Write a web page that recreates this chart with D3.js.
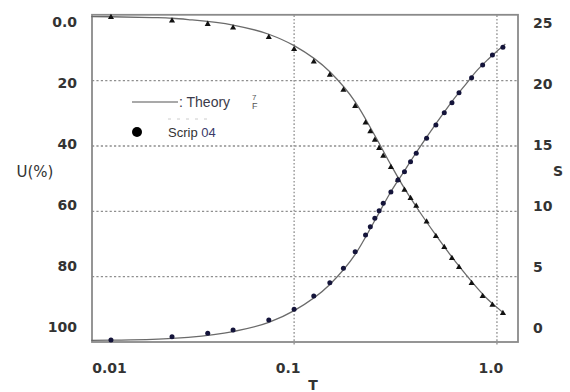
<!DOCTYPE html>
<html><head><meta charset="utf-8">
<script src="https://cdn.jsdelivr.net/npm/d3@7"></script>
<style>body{margin:0;background:#fff}svg{display:block}text{font-family:"DejaVu Sans",Verdana,sans-serif}text.lg{font-family:"Liberation Sans",Arial,sans-serif}</style>
</head><body><svg id="c" width="570" height="392"></svg>
<script>
// Measured time factor T for the test points
const T = [0.0125,0.025,0.0375,0.05,0.075,0.1,0.125,0.15,0.175,0.2,0.225,0.2375,0.25,0.2625,0.275,0.3,0.325,0.35,0.375,0.4,0.45,0.5,0.55,0.6,0.65,0.75,0.85,0.95,1.07];
// Degree of consolidation U(%) (triangles, left axis)
const U = [0.6,1.65,2.7,3.8,6.7,10.4,14.2,18.3,22.9,27.8,32.9,35.6,38.2,40.7,43.1,46.5,50.4,53.5,56.0,58.4,63.2,67.6,71.0,74.4,77.1,82.0,86.0,88.7,91.2];
// Settlement S (dots, right axis)
const S = [0.15,0.41,0.67,0.92,1.68,2.5,3.52,4.54,5.64,6.91,8.19,8.82,9.47,10.05,10.61,11.48,12.4,13.03,13.8,14.44,15.59,16.6,17.55,18.31,19.08,20.23,21.2,21.96,22.55];
// Theory curves
const thT = [0.01,0.0125,0.02,0.025,0.03,0.05,0.075,0.1,0.15,0.2,0.25,0.3,0.35,0.4,0.5,0.6,0.7,0.8,0.9,1.0,1.1];
const thU = [0.4,0.45,0.7,0.9,1.3,3.0,5.8,9.3,17.3,26.5,36.8,45.8,53.0,58.6,67.3,74.0,79.2,83.5,86.9,89.4,91.6];
const thS = [0.12,0.14,0.2,0.27,0.36,0.8,1.5,2.4,4.4,6.7,9.3,11.5,13.1,14.5,16.7,18.4,19.7,20.8,21.6,22.25,22.8];
// Tick labels
const uTicks = [0,20,40,60,80,100];
const uTickLabels = ["0.0","20","40","60","80","100"];
const sTicks = [25,20,15,10,5,0];
const tTicks = [0.01,0.1,1.0];
const tTickLabels = ["0.01","0.1","1.0"];

const svg = d3.select("#c");
const L=92,R=518,Tp=15.3,B=342;
const x = d3.scaleLog().domain([0.01,1.27]).range([91.3,R]);
const yU = d3.scaleLinear().domain([0,100]).range([Tp,B]);
const yS = d3.scaleLinear().domain([25,0]).range([Tp,B]);
const yUlab = d3.scaleLinear().domain([0,100]).range([22,327]);
const ySlab = d3.scaleLinear().domain([25,0]).range([23.3,328.3]);

// grid
svg.append("g").selectAll("line").data([20,40,60,80]).join("line")
  .attr("x1",L).attr("x2",R).attr("y1",d=>yU(d)).attr("y2",d=>yU(d))
  .attr("stroke","#8f8f8f").attr("stroke-width",1.3).attr("stroke-dasharray","2.2,2.2");
svg.append("g").selectAll("line").data([0.1,1.0]).join("line")
  .attr("x1",d=>x(d)).attr("x2",d=>x(d)).attr("y1",Tp).attr("y2",B+3)
  .attr("stroke","#8f8f8f").attr("stroke-width",1.3).attr("stroke-dasharray","1.6,2");

// frame
svg.append("rect").attr("x",L).attr("y",Tp-0.5).attr("width",R-L).attr("height",B-Tp+0.5)
  .attr("fill","none").attr("stroke","#8a8a8a").attr("stroke-width",1.8);

// theory lines
const lineU = d3.line().x((d,i)=>x(thT[i])).y(d=>yU(d)).curve(d3.curveMonotoneX);
const lineS = d3.line().x((d,i)=>x(thT[i])).y(d=>yS(d)).curve(d3.curveMonotoneX);
svg.append("path").attr("d",lineU(thU)).attr("fill","none").attr("stroke","#6a6a6a").attr("stroke-width",1.3);
svg.append("path").attr("d",lineS(thS)).attr("fill","none").attr("stroke","#6a6a6a").attr("stroke-width",1.3);

// markers
const tri = d3.symbol().type(d3.symbolTriangle).size(16);
svg.append("g").selectAll("path").data(U).join("path")
  .attr("d",tri).attr("transform",(d,i)=>`translate(${x(T[i])},${yU(d)})`).attr("fill","#111");
svg.append("g").selectAll("circle").data(S).join("circle")
  .attr("cx",(d,i)=>x(T[i])).attr("cy",d=>yS(d)).attr("r",2.5).attr("fill","#14143a");

// axis labels
const tf = {"font-size":"14px","font-weight":"bold","fill":"#333"};
function sty(s,o){for(const k in o) s.attr(k,o[k]); return s;}
sty(svg.append("g").selectAll("text").data(uTicks).join("text")
  .attr("x",77).attr("y",d=>yUlab(d)).attr("dy","0.36em").attr("text-anchor","end")
  .text((d,i)=>uTickLabels[i]),tf);
sty(svg.append("g").selectAll("text").data(sTicks).join("text")
  .attr("x",533).attr("y",d=>ySlab(d)).attr("dy","0.36em").attr("text-anchor","start")
  .text(d=>String(d)),tf);
sty(svg.append("g").selectAll("text").data(tTicks).join("text")
  .attr("x",(d,i)=>i===0?x(d)+1:x(d)-6).attr("y",373)
  .attr("text-anchor",(d,i)=>i===0?"start":"middle")
  .text((d,i)=>tTickLabels[i]),tf);
sty(svg.append("text").attr("x",35).attr("y",172).attr("dy","0.36em").attr("text-anchor","middle").text("U(%)"),{"font-size":"15px","fill":"#333"});
sty(svg.append("text").attr("x",558).attr("y",171).attr("dy","0.36em").attr("text-anchor","middle").text("S"),tf);
sty(svg.append("text").attr("x",313).attr("y",390).attr("text-anchor","middle").text("T"),tf);

// legend
svg.append("line").attr("x1",132).attr("x2",178).attr("y1",102).attr("y2",102).attr("stroke","#555").attr("stroke-width",1.2);
svg.append("text").attr("class","lg").attr("x",179).attr("y",107).attr("font-size","14px").attr("fill","#3a3a4a").text(": Theory");
svg.append("text").attr("class","lg").attr("x",252).attr("y",100).attr("font-size","8px").attr("fill","#555").text("7");
svg.append("text").attr("class","lg").attr("x",252).attr("y",108.5).attr("font-size","9px").attr("fill","#555").text("F");
svg.append("line").attr("x1",168).attr("x2",212).attr("y1",119).attr("y2",119).attr("stroke","#ccc").attr("stroke-width",1).attr("stroke-dasharray","3,6");
svg.append("circle").attr("cx",137).attr("cy",132).attr("r",5).attr("fill","#000");
const st = svg.append("text").attr("class","lg").attr("x",168).attr("y",137).attr("font-size","13px").attr("fill","#333");
st.append("tspan").text("Scrip ");
st.append("tspan").attr("fill","#3a3a6a").text("04");
</script></body></html>
